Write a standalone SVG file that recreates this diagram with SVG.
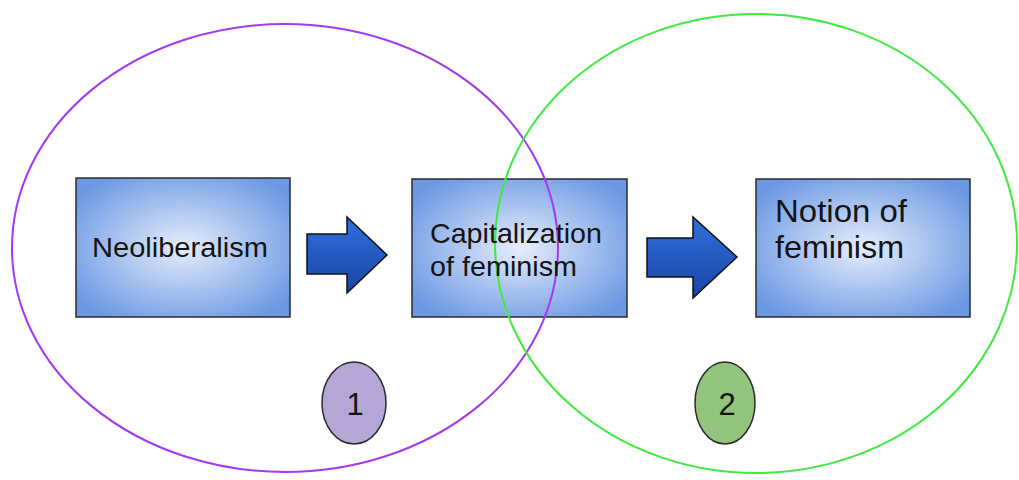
<svg xmlns="http://www.w3.org/2000/svg" width="1019" height="480" viewBox="0 0 1019 480">
<defs>
<radialGradient id="boxg" cx="50%" cy="50%" r="62%">
<stop offset="0" stop-color="#e6edfb"/>
<stop offset="1" stop-color="#6a98e3"/>
</radialGradient>
<linearGradient id="arrg" x1="0" y1="0" x2="0" y2="1">
<stop offset="0" stop-color="#2f6fdc"/>
<stop offset="1" stop-color="#1b46a6"/>
</linearGradient>
</defs>
<style>
.box{fill:url(#boxg);stroke:#2b2b2b;stroke-width:1.5}
.lbl{font-family:"Liberation Sans",Arial,sans-serif;fill:#141414}
.arr{fill:url(#arrg);stroke:#111;stroke-width:1.5;stroke-linejoin:miter}
.big{fill:none;stroke-width:2}
.num{stroke:#2b2b2b;stroke-width:1.5}
</style>
<rect width="1019" height="480" fill="#fff"/>
<g id="node-neoliberalism">
<rect class="box" x="76" y="178" width="214" height="139"/>
</g>
<g id="node-capitalization">
<rect class="box" x="412" y="179" width="215" height="138"/>
</g>
<g id="node-notion">
<rect class="box" x="756" y="179" width="214" height="138"/>
</g>
<g id="connectors">
<path class="arr" d="M307,234 H347 V217 L387,255 L347,293 V274 H307 Z"/>
<path class="arr" d="M647,238 H693 V217 L737,257 L693,298 V277 H647 Z"/>
</g>
<g id="group-1-ellipse">
<ellipse class="big" cx="285" cy="248" rx="273" ry="224" stroke="#a33af2"/>
</g>
<g id="group-2-ellipse">
<ellipse class="big" cx="756" cy="243.5" rx="261" ry="229.5" stroke="#40ea40"/>
</g>
<g id="labels">
<text class="lbl" x="92" y="257" font-size="27" textLength="176" lengthAdjust="spacingAndGlyphs">Neoliberalism</text>
<text class="lbl" x="430" y="243" font-size="28" textLength="172" lengthAdjust="spacingAndGlyphs">Capitalization</text>
<text class="lbl" x="430" y="276" font-size="28" textLength="147" lengthAdjust="spacingAndGlyphs">of feminism</text>
<text class="lbl" x="775" y="222" font-size="32" textLength="132" lengthAdjust="spacingAndGlyphs">Notion of</text>
<text class="lbl" x="775" y="258" font-size="32" textLength="129" lengthAdjust="spacingAndGlyphs">feminism</text>
</g>
<g id="badge-1">
<ellipse class="num" cx="354" cy="403" rx="32" ry="41" fill="#b4a7d6"/>
<text class="lbl" x="355" y="415" font-size="31" text-anchor="middle">1</text>
</g>
<g id="badge-2">
<ellipse class="num" cx="725" cy="403" rx="30" ry="41" fill="#93c47d"/>
<text class="lbl" x="727" y="415" font-size="31" text-anchor="middle">2</text>
</g>
</svg>
